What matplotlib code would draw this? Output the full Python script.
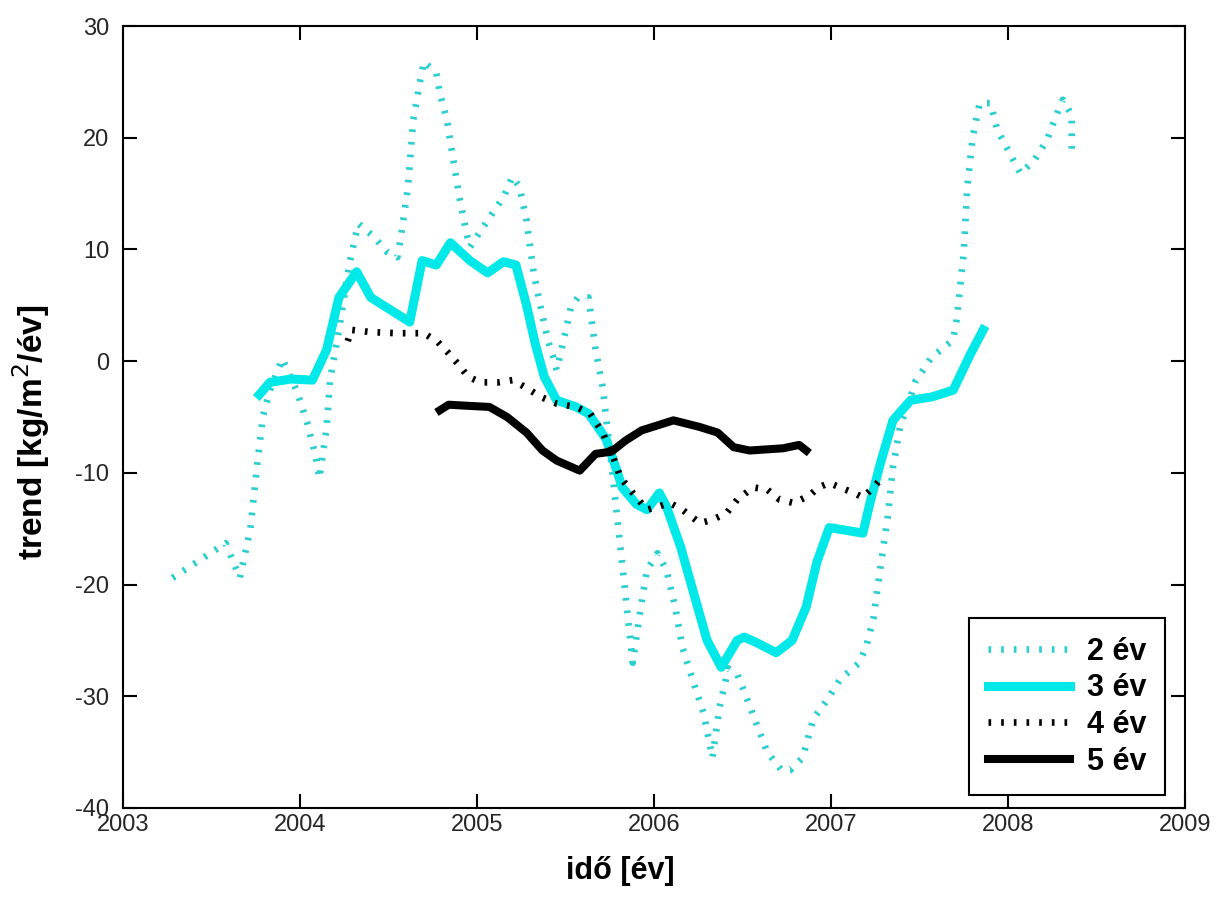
import numpy as np
import matplotlib.pyplot as plt

plt.rcParams['font.family'] = ['Liberation Sans', 'DejaVu Sans']
plt.rcParams['axes.unicode_minus'] = False

# 2 ev trend (year, value)
t2 = [2003.28, 2003.58, 2003.66, 2003.72, 2003.76, 2003.79, 2003.83, 2003.90, 2003.98, 2004.04,
      2004.09, 2004.11, 2004.15, 2004.17, 2004.22, 2004.28, 2004.33, 2004.42, 2004.49, 2004.55,
      2004.57, 2004.61, 2004.64, 2004.68, 2004.70, 2004.77, 2004.79, 2004.83, 2004.86, 2004.90,
      2004.94, 2004.96, 2005.06, 2005.15, 2005.20, 2005.24, 2005.28, 2005.32, 2005.36, 2005.40,
      2005.43, 2005.45, 2005.49, 2005.53, 2005.57, 2005.63, 2005.67, 2005.71, 2005.77, 2005.81,
      2005.85, 2005.88, 2005.92, 2005.96, 2006.02, 2006.07, 2006.12, 2006.16, 2006.22, 2006.28,
      2006.33, 2006.37, 2006.42, 2006.47, 2006.52, 2006.58, 2006.64, 2006.72, 2006.77, 2006.84,
      2006.90, 2006.98, 2007.05, 2007.16, 2007.20, 2007.24, 2007.28, 2007.32, 2007.35, 2007.39,
      2007.43, 2007.48, 2007.52, 2007.57, 2007.62, 2007.69, 2007.71, 2007.75, 2007.77, 2007.80,
      2007.84, 2007.90, 2007.94, 2007.99, 2008.07, 2008.15, 2008.22, 2008.29, 2008.31, 2008.36,
      2008.36]
v2 = [-19.4, -16.3, -19.4, -15.0, -9.0, -5.0, -2.6, 0.2, -2.6, -5.5,
      -8.6, -10.5, -6.0, -1.7, 2.8, 8.8, 12.3, 11.1, 9.8, 9.3,
      11.1, 15.6, 21.6, 25.2, 26.8, 25.8, 24.0, 21.6, 18.6, 14.7,
      11.5, 10.2, 12.6, 14.7, 16.5, 15.6, 12.6, 7.9, 4.8, 1.9,
      0.4, -0.8, 1.9, 4.8, 5.7, 5.7, 1.0, -2.3, -10.7, -16.6,
      -22.6, -27.0, -22.6, -18.7, -17.2, -18.7, -22.0, -25.6, -28.6, -31.5,
      -35.5, -31.0, -27.5, -28.0, -30.0, -32.5, -35.0, -36.6, -36.6, -35.5,
      -32.0, -30.3, -28.5, -27.0, -25.5, -23.0, -18.4, -14.0, -9.5, -5.9,
      -4.1, -1.7, -0.8, 0.4, 1.0, 1.9, 3.7, 9.7, 15.6, 20.0,
      23.1, 23.1, 20.7, 19.2, 16.8, 18.0, 19.8, 22.7, 23.4, 22.0,
      18.3]

# 3 ev trend
t3 = [2003.77, 2003.83, 2003.95, 2004.07, 2004.15, 2004.22, 2004.32, 2004.40, 2004.62, 2004.69,
      2004.77, 2004.85, 2004.96, 2005.06, 2005.15, 2005.22, 2005.28, 2005.33, 2005.38, 2005.45,
      2005.56, 2005.63, 2005.73, 2005.79, 2005.82, 2005.90, 2005.96, 2006.03, 2006.07, 2006.15,
      2006.23, 2006.30, 2006.38, 2006.47, 2006.51, 2006.58, 2006.69, 2006.78, 2006.86, 2006.92,
      2006.99, 2007.07, 2007.18, 2007.22, 2007.28, 2007.35, 2007.45, 2007.57, 2007.69, 2007.79,
      2007.86]
v3 = [-3.0, -1.9, -1.6, -1.7, 1.0, 5.7, 8.0, 5.7, 3.5, 9.0,
      8.6, 10.6, 9.0, 7.9, 8.9, 8.6, 5.0, 1.5, -1.4, -3.5,
      -4.1, -4.7, -7.0, -9.8, -11.3, -12.8, -13.3, -11.8, -13.0, -16.6,
      -21.1, -25.0, -27.4, -25.0, -24.7, -25.2, -26.1, -25.0, -22.0, -18.0,
      -14.9, -15.1, -15.4, -12.7, -9.1, -5.3, -3.5, -3.2, -2.6, 0.7,
      2.8]

# 4 ev trend
t4 = [2004.27, 2004.29, 2004.40, 2004.55, 2004.70, 2004.78, 2004.84, 2004.89, 2004.95, 2005.02,
      2005.12, 2005.20, 2005.28, 2005.36, 2005.45, 2005.56, 2005.64, 2005.71, 2005.77, 2005.81,
      2005.88, 2005.96, 2006.03, 2006.09, 2006.16, 2006.26, 2006.33, 2006.41, 2006.47, 2006.56,
      2006.64, 2006.71, 2006.79, 2006.88, 2006.93, 2006.99, 2007.05, 2007.13, 2007.18, 2007.24,
      2007.29]
v4 = [1.8, 2.8, 2.6, 2.5, 2.5, 1.7, 0.7, -0.2, -1.4, -1.9,
      -1.9, -1.7, -2.4, -3.2, -3.8, -4.1, -4.7, -6.4, -8.6, -10.4,
      -11.8, -13.3, -13.0, -12.7, -13.3, -14.5, -14.2, -13.6, -12.4, -11.3,
      -11.5, -12.4, -12.7, -12.0, -11.3, -10.9, -11.3, -11.8, -12.2, -11.3,
      -10.4]

# 5 ev trend
t5 = [2004.79, 2004.84, 2004.95, 2005.07, 2005.17, 2005.28, 2005.37, 2005.45, 2005.58, 2005.67,
      2005.76, 2005.84, 2005.93, 2006.11, 2006.26, 2006.36, 2006.45, 2006.54, 2006.73, 2006.82,
      2006.86]
v5 = [-4.4, -3.9, -4.0, -4.1, -5.0, -6.4, -8.0, -8.9, -9.8, -8.3,
      -8.1, -7.1, -6.2, -5.3, -5.9, -6.4, -7.7, -8.0, -7.8, -7.5,
      -8.0]

labels = ['2 év', '3 év', '4 év', '5 év']
xticks = [2003, 2004, 2005, 2006, 2007, 2008, 2009]
yticks = [-40, -30, -20, -10, 0, 10, 20, 30]

fig = plt.figure(figsize=(12.24, 9.08), dpi=100)
ax = fig.add_axes([123/1224, 1-808/908, (1185-123)/1224, (808-26)/908])

dot = (0, (0.4, 1.5))
l2, = ax.plot(t2, v2, color='#2ccfcf', lw=4.8, linestyle=dot, dash_capstyle='butt', label=labels[0])
l3, = ax.plot(t3, v3, color='#00e8e8', lw=6.5, solid_joinstyle='round', label=labels[1])
l4, = ax.plot(t4, v4, color='black', lw=4.8, linestyle=dot, dash_capstyle='butt', label=labels[2])
l5, = ax.plot(t5, v5, color='black', lw=5.8, solid_joinstyle='round', label=labels[3])

ax.set_xlim(2003, 2009)
ax.set_ylim(-40, 30)
ax.set_xticks(xticks)
ax.set_yticks(yticks)
ax.tick_params(direction='in', length=10, width=1.5, top=True, right=True,
               labelsize=17, labelcolor='#262626')
ax.tick_params(axis='y', pad=10)
ax.tick_params(axis='x', pad=4)
for s in ax.spines.values():
    s.set_linewidth(1.5)

ax.set_xlabel('idő [év]', fontsize=22, fontweight='bold')
ax.xaxis.set_label_coords(0.468, -0.062)
ax.set_ylabel('trend [kg/m$^2$/év]', fontsize=24, fontweight='bold', va='center')
ax.yaxis.set_label_coords(-0.087, 0.481)

leg = ax.legend(handles=[l2, l3, l4, l5], loc='lower right', bbox_to_anchor=(0.981, 0.0166),
                borderaxespad=0, fancybox=False, framealpha=1, edgecolor='black',
                handlelength=2.7, prop={'weight': 'bold', 'size': 22}, labelspacing=0.22,
                borderpad=0.6, handletextpad=0.55)
leg.get_frame().set_linewidth(1.5)

fig.savefig('out.png', dpi=100)
